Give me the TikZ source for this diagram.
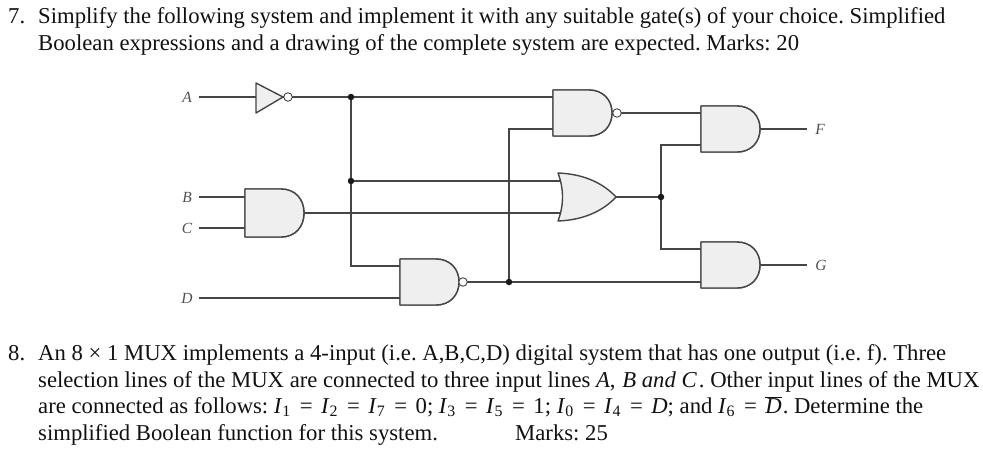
\documentclass[tikz,border=0pt]{standalone}
\usepackage{fontspec}
\setmainfont{Liberation Serif}
\frenchspacing
\definecolor{wirec}{HTML}{454545}
\definecolor{gatefill}{HTML}{EFEFEF}
\definecolor{inkc}{HTML}{111111}
\definecolor{labelc}{HTML}{505050}
\tikzset{
  x=1pt,y=-1pt,
  gateshape/.style={draw=wirec,fill=gatefill,line width=1.4pt,line join=round},
  wire/.style={draw=wirec,line width=1.2pt},
  bubble/.style={circle,draw=wirec,fill=white,line width=0.9pt,minimum size=8.5pt,inner sep=0pt},
  junction/.style={circle,fill=black!90,minimum size=6.5pt,inner sep=0pt},
  siglabel/.style={text=labelc,font=\fontsize{15.5}{15.5}\selectfont\itshape,inner sep=0pt},
  para/.style={text=inkc,font=\fontsize{22.7}{22.7}\selectfont,anchor=base west,inner sep=0pt},
}
\newcommand{\andbody}[4]{% name, left, top, bottom
  \path[gateshape] (#2,#3) -- ({#2+36},#3)
    .. controls ({#2+50},#3) and ({#2+59},{#3+10}) .. ({#2+59},{(#3+#4)/2})
    .. controls ({#2+59},{#4-10}) and ({#2+50},#4) .. ({#2+36},#4)
    -- (#2,#4) -- cycle;
  \coordinate (#1-in1) at (#2,{#3+7});
  \coordinate (#1-in2) at (#2,{#4-7});
  \coordinate (#1-out) at ({#2+59},{(#3+#4)/2});
}
\newcommand{\I}[1]{\textit{I}\textsubscript{#1}\hspace{0.6pt}}
\newcommand{\Eq}{\ \hspace{2.8pt}=\ \hspace{2.8pt}}
\begin{document}
\begin{tikzpicture}
\useasboundingbox (0,0) rectangle (983,450);
% text
\node[para] (n7) at (8,23) {7.};
\node[para] (l1) at (38,23) {Simplify the following system and implement it with any suitable gate(s) of your choice. Simplified};
\node[para] (l2) at (38,50) {Boolean expressions and a drawing of the complete system are expected. Marks: 20};
\node[para] (n8) at (8,360) {8.};
\node[para] (l3) at (38,360) {An 8 × 1 MUX implements a 4-input (i.e. A,B,C,D) digital system that has one output (i.e. f). Three};
\node[para] (l4) at (38,387) {selection lines of the MUX are connected to three input lines \textit{A},\hspace{1pt} \textit{B and C}\hspace{2pt}. Other input lines of the MUX};
\node[para] (l5) at (38,413) {are connected as follows: \I{1}\Eq\I{2}\Eq\I{7}\Eq 0; \I{3}\Eq\I{5}\Eq 1; \I{0}\Eq\I{4}\Eq\textit{D}; and \I{6}\Eq$\overline{\mbox{\textit{D}}}$\hspace{1pt}. Determine the};
\node[para] (l6) at (38,440) {simplified Boolean function for this system.};
\node[para] (l7) at (515,440) {Marks: 25};
% signal labels and points
\node[siglabel] (A) at (187,97) {A};
\node[siglabel] (B) at (187,197) {B};
\node[siglabel] (C) at (187,228) {C};
\node[siglabel] (D) at (187,298) {D};
\node[siglabel] (F) at (820,129) {F};
\node[siglabel] (G) at (821,265) {G};
\coordinate (Aw) at (199,97);
\coordinate (Bw) at (199,197);
\coordinate (Cw) at (199,228);
\coordinate (Dw) at (199,298);
\coordinate (Fw) at (807,129);
\coordinate (Gw) at (807,265);
\coordinate (j1) at (351,97);
\coordinate (j2) at (351,181);
\coordinate (j3) at (509,282);
\coordinate (j4) at (661,197);
\coordinate (invin) at (256,97);
\coordinate (invtip) at (283,97);
\coordinate (orin1) at (561,181);
\coordinate (orin2) at (561,213);
\coordinate (orout) at (616,197);
% wires
\andbody{u}{245}{189}{237}
\coordinate (u-a) at (245,197);
\coordinate (u-b) at (245,228);
\andbody{n1}{553}{90}{136}
\andbody{n2}{400}{259}{305}
\andbody{f}{701}{106}{152}
\andbody{g}{701}{242}{288}
\draw[wire] (Aw) -- (invin);
\draw[wire] (Bw) -- (u-a);
\draw[wire] (Cw) -- (u-b);
\draw[wire] (Dw) -- (n2-in2);
\draw[wire] (invtip) -- (j1) -- (n1-in1 |- j1);
\draw[wire] (j1) -- (j2) -- (j2 |- n2-in1) -- (n2-in1);
\draw[wire] (j2) -- (orin1);
\draw[wire] (u-out) -- (orin2);
\draw[wire] (n2-out) -- (j3) -- (j3 -| g-in2);
\draw[wire] (j3) -- (j3 |- n1-in2) -- (n1-in2);
\draw[wire] (n1-out) -- (f-in1);
\draw[wire] (orout) -- (j4);
\draw[wire] (j4) -- (j4 |- f-in2) -- (f-in2);
\draw[wire] (j4) -- (j4 |- g-in1) -- (g-in1);
\draw[wire] (f-out) -- (Fw);
\draw[wire] (g-out) -- (Gw);
% gates drawn over the wire ends
\andbody{u}{245}{189}{237}
\andbody{n1}{553}{90}{136}
\andbody{n2}{400}{259}{305}
\andbody{f}{701}{106}{152}
\andbody{g}{701}{242}{288}
\path[gateshape] (558,173) .. controls (585,174) and (604,184) .. (616,197)
  .. controls (604,210) and (585,220) .. (558,221)
  .. controls (564,205) and (564,189) .. (558,173) -- cycle;
\path[gateshape] (256,83) -- (283,97) -- (256,113) -- cycle;
\node[bubble] (b0) at (288,97) {};
\node[bubble] (b1) at (617,113) {};
\node[bubble] (b2) at (463,282) {};
\node[junction] (d1) at (j1) {};
\node[junction] (d2) at (j2) {};
\node[junction] (d3) at (j3) {};
\node[junction] (d4) at (j4) {};
\end{tikzpicture}
\end{document}
